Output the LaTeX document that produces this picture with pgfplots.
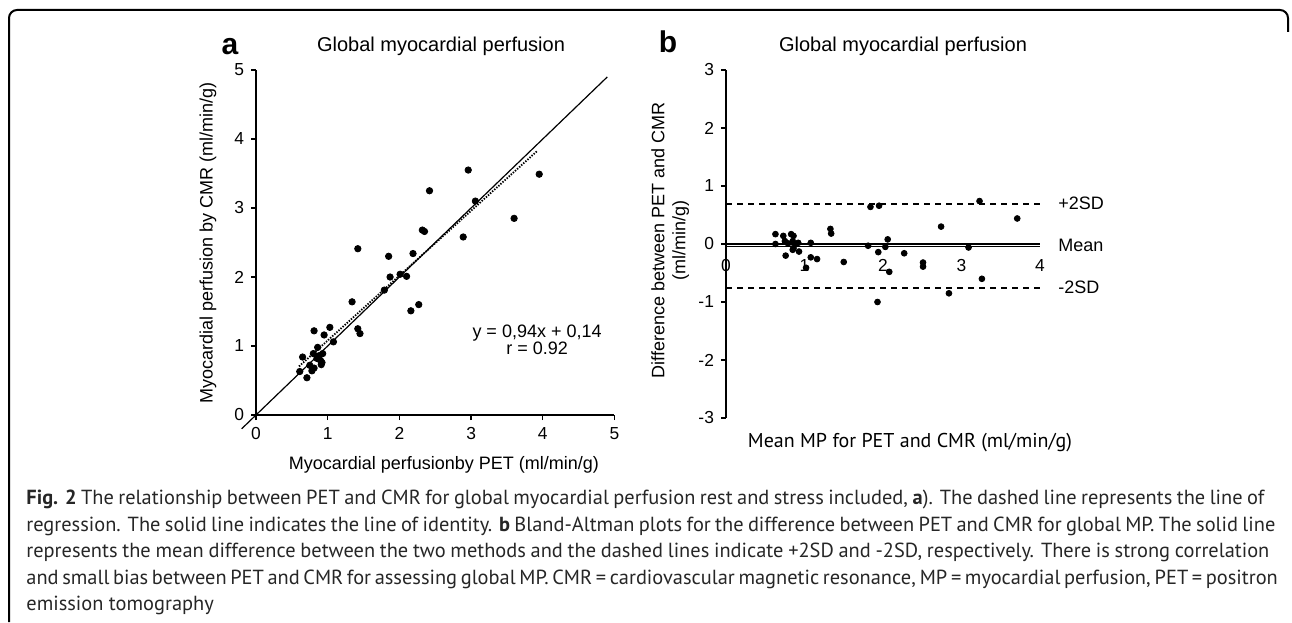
\documentclass[border=0pt]{standalone}
\usepackage{fontspec}
\setmainfont{PT Sans}
\newfontfamily\arial{Liberation Sans}
\usepackage{pgfplots}
\pgfplotsset{compat=1.18}

\newcommand{\tickfont}{\arial\fontsize{8.7}{10}\selectfont}
\newcommand{\labfont}{\arial\fontsize{9}{10.5}\selectfont}
\newcommand{\capfont}{\fontsize{10.2}{12}\selectfont}

\pgfplotsset{
  panel/.style={
    scale only axis, anchor=south west, clip=false,
    tick style={line width=0.7pt, black},
    major tick length=2.5pt,
    ticklabel style={font=\tickfont},
    /pgf/number format/assume math mode=true,
    label style={font=\labfont},
  },
  noarrows/.style={
    axis line style={-, line width=0.7pt, black},
    x axis line style={-}, y axis line style={-},
    every outer x axis line/.append style={-},
    every outer y axis line/.append style={-},
    every inner x axis line/.append style={-},
    every inner y axis line/.append style={-},
  }
}

\begin{document}
\begin{tikzpicture}
\useasboundingbox (0,0) rectangle (646pt,311pt);
% figure frame
\draw[line width=1pt, rounded corners=4pt] (4.5pt,0) -- (4.5pt,306pt) -- (644pt,306pt) -- (644pt,295pt);

% panel a
\begin{axis}[panel, at={(128pt,103.5pt)}, width=179.25pt, height=172.5pt,
  xmin=0, xmax=5, ymin=0, ymax=5, axis lines=left, noarrows, tick align=outside,
  xtick={0,...,5}, ytick={0,...,5},
  xlabel={Myocardial perfusionby PET (ml/min/g)},
  ylabel={Myocardial perfusion by CMR (ml/min/g)},
  xlabel style={at={(axis description cs:0.524,-0.145)}, anchor=center},
  ylabel style={at={(axis description cs:-0.134,0.5)}, anchor=center}]
\addplot[black, line width=0.6pt] coordinates {(-0.2,-0.2) (4.9,4.9)};
\addplot[black, line width=0.9pt, dash pattern=on 0.7pt off 0.7pt] coordinates {(0.6,0.704) (3.93,3.834)};
\addplot[only marks, mark=*, mark size=1.6pt, black] coordinates {
(0.61,0.63) (0.65,0.84) (0.71,0.54) (0.75,0.72) (0.78,0.64) (0.80,0.89)
(0.81,0.68) (0.81,1.22) (0.85,0.82) (0.86,0.98) (0.90,0.79) (0.91,0.73)
(0.93,0.89) (0.88,0.86) (0.92,0.76) (0.95,1.16) (1.03,1.27) (1.08,1.06)
(1.34,1.64) (1.42,1.25) (1.45,1.18) (1.42,2.41) (1.79,1.81) (1.85,2.30)
(1.87,2.00) (2.01,2.04) (2.10,2.01) (2.16,1.51) (2.19,2.34) (2.27,1.60)
(2.32,2.68) (2.35,2.66) (2.42,3.25) (2.89,2.58) (2.96,3.55) (3.06,3.10)
(3.60,2.85) (3.95,3.49)};
\node[font=\labfont, anchor=base] at (axis cs:3.92,1.13) {y = 0,94x + 0,14};
\node[font=\labfont, anchor=base] at (axis cs:3.92,0.87) {r = 0.92};
\end{axis}

% panel b
\begin{axis}[panel, at={(363pt,102pt)}, width=157pt, height=174pt,
  xmin=0, xmax=4, ymin=-3, ymax=3,
  axis x line=middle, axis y line=left, noarrows, hide obscured x ticks=false,
  ytick align=outside,
  x tick style={draw=none},
  xtick={0,...,4}, ytick={-3,...,3},
  xticklabel style={yshift=-3pt},
  xlabel={Mean MP for PET and CMR (ml/min/g)},
  ylabel={Difference between PET and CMR\\(ml/min/g)},
  xlabel style={at={(axis description cs:0.586,-0.072)}, anchor=center},
  ylabel style={at={(axis description cs:-0.178,0.511)}, anchor=center, align=center}]
\addplot[black, line width=0.6pt] coordinates {(0,-0.045) (4,-0.045)};
\addplot[black, line width=0.6pt, dash pattern=on 3pt off 2.5pt] coordinates {(0,0.69) (4,0.69)};
\addplot[black, line width=0.6pt, dash pattern=on 3pt off 2.5pt] coordinates {(0,-0.76) (4,-0.76)};
\addplot[only marks, mark=*, mark size=1.45pt, black] coordinates {
(0.63,0.17) (0.63,0.00) (0.73,0.14) (0.75,0.05) (0.76,-0.20) (0.79,0.01)
(0.83,0.17) (0.86,0.14) (0.85,0.05) (0.85,-0.10) (0.86,-0.07) (0.89,0.00)
(0.92,0.02) (0.93,-0.13) (1.02,-0.41) (1.08,-0.23) (1.08,0.02) (1.16,-0.26)
(1.33,0.26) (1.34,0.18) (1.50,-0.31) (1.81,-0.03) (1.84,0.64) (1.95,0.66)
(1.93,-1.00) (1.94,-0.14) (2.03,-0.05) (2.06,0.08) (2.08,-0.48) (2.27,-0.16)
(2.51,-0.32) (2.51,-0.39) (2.74,0.30) (2.84,-0.85) (3.09,-0.06) (3.23,0.74)
(3.26,-0.60) (3.71,0.44)};
\node[font=\labfont, anchor=west, inner sep=0pt] at (axis cs:4.23,0.71) {+2SD};
\node[font=\labfont, anchor=west, inner sep=0pt] at (axis cs:4.23,-0.02) {Mean};
\node[font=\labfont, anchor=west, inner sep=0pt] at (axis cs:4.23,-0.74) {-2SD};
\end{axis}

% panel letters and titles
\node[font=\arial\bfseries\fontsize{15}{17}\selectfont, anchor=base] at (115pt,283.5pt) {a};
\node[font=\arial\bfseries\fontsize{15}{17}\selectfont, anchor=base] at (334pt,284.5pt) {b};
\node[font=\arial\fontsize{10}{12}\selectfont, anchor=base] at (220.5pt,285pt) {Global myocardial perfusion};
\node[font=\arial\fontsize{10}{12}\selectfont, anchor=base] at (451.5pt,285pt) {Global myocardial perfusion};

% caption
\begin{scope}[every node/.style={anchor=base west, inner sep=0pt, font=\capfont, text=black!85}]
\node at (13pt,58.5pt) {\makebox[619pt][s]{\mbox{\textbf{Fig. 2}} The relationship between PET and CMR for global myocardial perfusion rest and stress included, \textbf{a}). The dashed line represents the line of}};
\node at (13pt,45.25pt) {\makebox[624.5pt][s]{regression. The solid line indicates the line of identity. \textbf{b} Bland-Altman plots for the difference between PET and CMR for global MP. The solid line}};
\node at (13pt,32pt) {\makebox[621.5pt][s]{represents the mean difference between the two methods and the dashed lines indicate +2SD and -2SD, respectively. There is strong correlation}};
\node at (13pt,18.75pt) {\makebox[618pt][s]{and small bias between PET and CMR for assessing global MP. CMR = cardiovascular magnetic resonance, MP = myocardial perfusion, PET = positron}};
\node at (13pt,5.5pt) {emission tomography};
\end{scope}
\end{tikzpicture}
\end{document}
